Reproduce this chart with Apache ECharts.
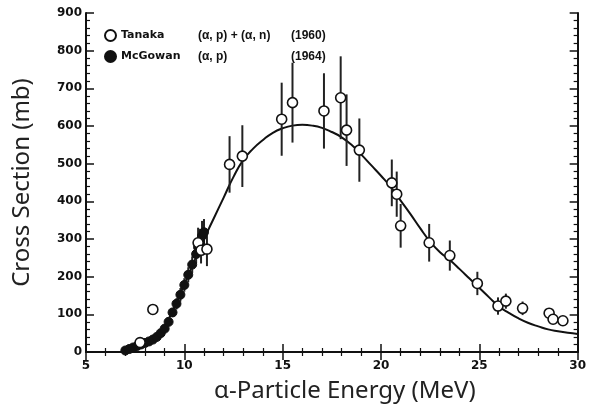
<!DOCTYPE html>
<html>
<head>
<meta charset="utf-8">
<script src="https://cdn.jsdelivr.net/npm/echarts@6/dist/echarts.min.js"></script>
<style>
  html, body { margin: 0; padding: 0; background: #fff; }
  #chart { width: 589px; height: 419px; }
</style>
</head>
<body>
<div id="chart"></div>
<script>
// Tanaka (a,p)+(a,n) 1960 -- open circles
const tanakaX = [7.75, 8.4, 10.7, 10.85, 11.15, 12.3, 12.95, 14.95, 15.5, 17.1, 17.95, 18.25, 18.9, 20.55, 20.8, 21.0, 22.45, 23.5, 24.9, 25.95, 26.35, 27.2, 28.55, 28.75, 29.25];
const tanakaY = [25, 113, 290, 270, 273, 498, 520, 618, 662, 640, 675, 589, 536, 449, 419, 335, 290, 256, 182, 122, 135, 116, 103, 87, 83];
const tanakaErr = [0, 0, 40, 35, 45, 75, 82, 97, 106, 100, 110, 95, 84, 62, 60, 58, 50, 40, 31, 23, 20, 18, 13, 10, 12];

// McGowan (a,p) 1964 -- filled dots
const mcgX = [7.0, 7.2, 7.4, 7.6, 7.8, 8.0, 8.2, 8.4, 8.6, 8.8, 9.0, 9.2, 9.4, 9.6, 9.8, 10.0, 10.2, 10.4, 10.6, 10.7, 10.8, 10.9, 11.0];
const mcgY = [4, 8, 12, 16, 20, 24, 28, 33, 40, 50, 62, 80, 105, 128, 152, 178, 205, 232, 260, 278, 292, 308, 318];
const mcgErr = [0, 0, 0, 0, 0, 0, 0, 0, 0, 8, 10, 10, 12, 15, 18, 18, 20, 22, 25, 28, 35, 40, 35];

// fitted curve
const curveX = [7.0, 7.5, 8.0, 8.5, 9.0, 9.5, 10.0, 10.5, 11.0, 11.5, 12.0, 12.5, 13.0, 13.5, 14.0, 14.5, 15.0, 15.5, 16.0, 16.5, 17.0, 17.5, 18.0, 18.5, 19.0, 19.5, 20.0, 20.5, 21.0, 21.5, 22.0, 22.5, 23.0, 23.5, 24.0, 24.5, 25.0, 25.5, 26.0, 26.5, 27.0, 27.5, 28.0, 28.5, 29.0, 29.5, 30.0];
const curveY = [0, 6, 18, 38, 70, 120, 180, 240, 300, 355, 410, 465, 510, 540, 563, 582, 594, 601, 603, 601, 595, 584, 570, 550, 524, 496, 468, 438, 402, 366, 328, 293, 265, 244, 220, 195, 170, 145, 121, 104, 89, 77, 68, 60, 55, 51, 48];

const legendCols = {
  Tanaka: ['(α, p) + (α, n)', '(1960)'],
  McGowan: ['(α, p)', '(1964)']
};

const zip = (xs, ys, es) => xs.map((x, i) => es ? [x, ys[i], es[i]] : [x, ys[i]]);

const chart = echarts.init(document.getElementById('chart'));

const tickFont = { fontFamily: 'DejaVu Sans', fontWeight: 'bold', fontSize: 12, color: '#111' };

// 坐标轴公共样式
const axisCommon = {
  axisLine: { show: true, lineStyle: { color: '#111', width: 2 } },
  axisTick: { show: true, inside: true, length: 8, lineStyle: { color: '#111', width: 1.5 } },
  minorTick: { show: true, splitNumber: 5, length: 4, lineStyle: { color: '#111', width: 1.2 } },
  splitLine: { show: false }
};

const errorBars = (name, data) => ({
  name: name,
  type: 'custom',
  data: data,
  z: 3,
  silent: true,
  renderItem: (params, api) => {
    const x = api.value(0), y = api.value(1), e = api.value(2);
    if (!e) return null;
    const top = api.coord([x, y + e]);
    const bot = api.coord([x, y - e]);
    return {
      type: 'line',
      shape: { x1: top[0], y1: top[1], x2: bot[0], y2: bot[1] },
      style: { stroke: '#222', lineWidth: 2 }
    };
  }
});

const legendFont = { fontFamily: 'DejaVu Sans', fontWeight: 'bold', fontSize: 11, color: '#111' };
const legendFont2 = { fontFamily: 'Liberation Sans', fontWeight: 'bold', fontSize: 12, color: '#111' };

const option = {
  animation: false,
  backgroundColor: '#fff',
  grid: { left: 86, right: 11, top: 13, bottom: 67 },
  legend: {
    orient: 'vertical',
    left: 99,
    top: 24,
    itemGap: 8,
    itemWidth: 11,
    itemHeight: 11,
    data: ['Tanaka', 'McGowan'],
    formatter: (name) => `{a|${name}}{b|${legendCols[name][0]}}{c|${legendCols[name][1]}}`,
    textStyle: {
      rich: {
        a: { width: 77, ...legendFont },
        b: { width: 93, ...legendFont2 },
        c: { ...legendFont2 }
      }
    }
  },
  xAxis: [{
    ...axisCommon,
    type: 'value', min: 5, max: 30, interval: 5,
    name: 'α-Particle Energy (MeV)',
    nameLocation: 'middle', nameGap: 27,
    nameTextStyle: { fontFamily: 'Noto Sans', fontSize: 24, color: '#222', padding: [0, 0, 0, 26] },
    axisLabel: { ...tickFont, margin: 8 }
  }, {
    ...axisCommon,
    type: 'value', min: 5, max: 30, interval: 5, position: 'top',
    axisLabel: { show: false }
  }],
  yAxis: [{
    ...axisCommon,
    type: 'value', min: 0, max: 900, interval: 100,
    name: 'Cross Section (mb)',
    nameLocation: 'middle', nameGap: 52,
    nameTextStyle: { fontFamily: 'Noto Sans', fontSize: 24, color: '#222' },
    axisLabel: { ...tickFont, margin: 4 }
  }, {
    ...axisCommon,
    type: 'value', min: 0, max: 900, interval: 100, position: 'right',
    axisLabel: { show: false }
  }],
  series: [
    {
      name: 'curve',
      type: 'line',
      data: zip(curveX, curveY),
      smooth: true,
      showSymbol: false,
      z: 2,
      lineStyle: { color: '#111', width: 2 }
    },
    errorBars('tanakaErr', zip(tanakaX, tanakaY, tanakaErr)),
    errorBars('mcgErr', zip(mcgX, mcgY, mcgErr)),
    {
      name: 'McGowan',
      type: 'scatter',
      data: zip(mcgX, mcgY),
      symbol: 'circle',
      symbolSize: 9,
      z: 4,
      itemStyle: { color: '#111', borderColor: '#111', borderWidth: 1, opacity: 1 }
    },
    {
      name: 'Tanaka',
      type: 'scatter',
      data: zip(tanakaX, tanakaY),
      symbol: 'circle',
      symbolSize: 10,
      z: 5,
      itemStyle: { color: '#fff', borderColor: '#111', borderWidth: 1.6, opacity: 1 }
    }
  ]
};

chart.setOption(option);
</script>
</body>
</html>
